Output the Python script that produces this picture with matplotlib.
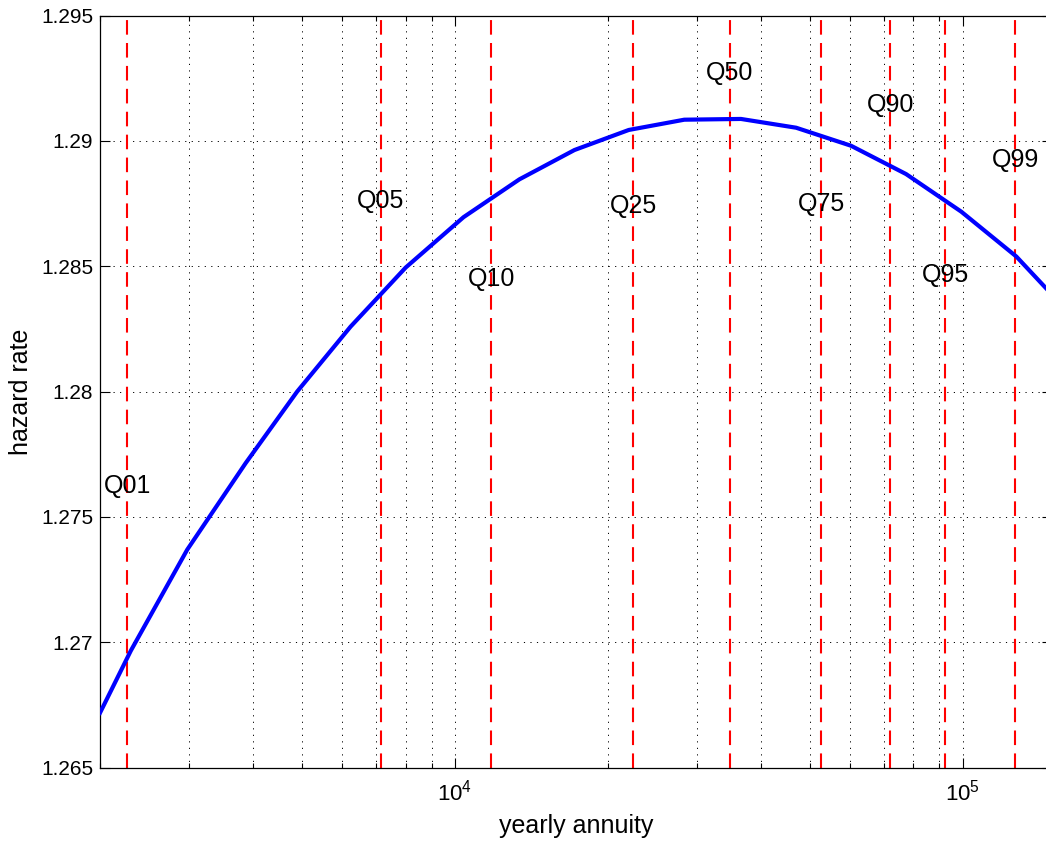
import matplotlib
matplotlib.use("Agg")
import matplotlib.pyplot as plt
from matplotlib.ticker import NullFormatter, LogLocator

plt.rcParams["font.family"] = ["Liberation Sans", "DejaVu Sans"]
plt.rcParams["mathtext.fontset"] = "custom"
plt.rcParams["mathtext.rm"] = "Liberation Sans"
plt.rcParams["mathtext.it"] = "Liberation Sans:italic"

# hazard rate curve
annuity = [2000, 2300, 2970, 3870, 4890, 6230, 8000, 10400, 13400, 17200,
           22000, 28300, 36600, 47000, 60300, 77400, 99400, 127600, 150000]
hazard = [1.26718, 1.26966, 1.27369, 1.27714, 1.28000, 1.28259, 1.28495,
          1.28696, 1.28847, 1.28964, 1.29044, 1.29085, 1.29088, 1.29053,
          1.28981, 1.28868, 1.28718, 1.28539, 1.28387]

# quantiles of yearly annuity
q_names = ["Q01", "Q05", "Q10", "Q25", "Q50", "Q75", "Q90", "Q95", "Q99"]
q_values = [2265, 7137, 11793, 22446, 34830, 52700, 72110, 92450, 127030]
q_label_y = [1.27625, 1.28762, 1.28449, 1.28739, 1.29272, 1.28747, 1.29144,
             1.28466, 1.28924]

fig = plt.figure(figsize=(10.46, 8.41), dpi=100)
ax = fig.add_axes([100 / 1046, 73.5 / 841, 952 / 1046, 751.8 / 841])

ax.set_xscale("log")
ax.set_xlim(2000, 150000)
ax.set_ylim(1.265, 1.295)

for q, name, ly in zip(q_values, q_names, q_label_y):
    ax.axvline(q, color="red", lw=1.5, linestyle=(0, (7, 4)), zorder=2)
    ax.text(q, ly, name, ha="center", va="center", fontsize=18, zorder=4)

ax.plot(annuity, hazard, color="blue", lw=3, zorder=3)

ax.set_yticks([1.265, 1.27, 1.275, 1.28, 1.285, 1.29, 1.295])
ax.set_yticklabels(["1.265", "1.27", "1.275", "1.28", "1.285", "1.29", "1.295"])
ax.xaxis.set_minor_locator(LogLocator(base=10, subs=range(2, 10)))
ax.xaxis.set_minor_formatter(NullFormatter())

ax.grid(True, which="major", axis="both", color="k", lw=0.7,
        linestyle=(0, (1.2, 5.5)))
ax.grid(True, which="minor", axis="x", color="k", lw=0.7,
        linestyle=(0, (1.2, 5.5)))
ax.set_axisbelow(True)

ax.tick_params(which="both", direction="in", top=True, right=True,
               labelsize=15, width=0.8)
ax.tick_params(which="major", length=7)
ax.tick_params(which="minor", length=3.5)
ax.tick_params(axis="x", pad=9, labelsize=16)
ax.tick_params(axis="y", pad=5)
for s in ax.spines.values():
    s.set_linewidth(0.9)

ax.set_xlabel("yearly annuity", fontsize=18, labelpad=6)
ax.set_ylabel("hazard rate", fontsize=18, labelpad=6)

fig.savefig("out.png", dpi=100, facecolor="white")
